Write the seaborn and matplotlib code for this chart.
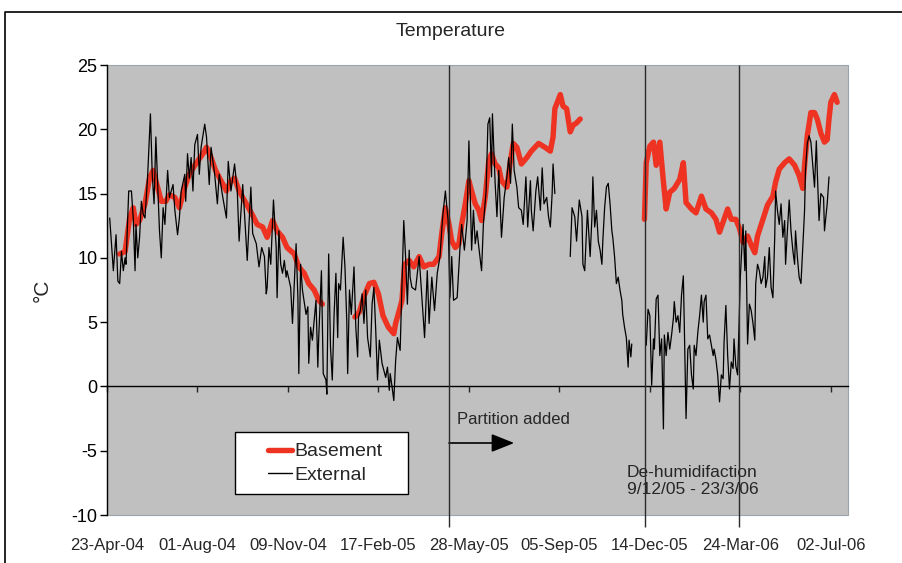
import numpy as np
import pandas as pd
import matplotlib
matplotlib.use("Agg")
import matplotlib.pyplot as plt
from matplotlib.lines import Line2D
from matplotlib.legend_handler import HandlerLine2D
import seaborn as sns

# ---- data -------------------------------------------------------------
start_date = "2004-04-23"          # day 0 of the day offsets below
nan = np.nan

# External air temperature (days since start, deg C); NaN marks a logging gap
ext_day = [3, 7, 10, 12, 14, 16, 18, 20, 21, 24, 27, 29, 31, 32, 34, 36, 38, 40, 42, 45,
           48, 50, 52, 54, 56, 58, 60, 62, 64, 67, 69, 73, 75, 78, 80, 82, 86, 87, 89, 91,
           93, 95, 97, 100, 102, 104, 108, 110, 113, 115, 119, 122, 124, 128, 132, 134, 137, 141, 144, 146,
           150, 152, 155, 159, 161, 165, 168, 171, 174, 176, 177, 179, 181, 184, 187, 188, 190, 192, 194, 196,
           198, 199, 203, 205, 209, 211, 212, 214, 216, 220, 222, 223, 225, 227, 231, 233, 234, 237, 239, 242,
           243, 245, 247, 249, 251, 253, 255, 256, 258, 261, 263, 265, 266, 268, 270, 273, 275, 277, 278, 280,
           282, 284, 286, 288, 291, 293, 295, 297, 299, 301, 304, 308, 310, 312, 313, 315, 317, 319, 321, 324,
           328, 330, 332, 334, 335, 337, 341, 345, 348, 351, 354, 356, 359, 362, 365, 368, 371, 374, 377, 379,
           381, 383, 387, 390, 392, 395, 398, 400, 403, 405, 407, 409, 411, 414, 416, 419, 421, 423, 425, 426,
           429, 431, 433, 436, 439, 442, 444, 446, 448, 450, 453, 455, 458, 460, 463, 465, 468, 469, 471, 474,
           476, 479, 481, 483, 486, 488, 490, 492, 493, 495, 503,
           512, 514, 517, 519, 522, 525, 526, 528, 531, 534, 536, 537, 539, 541, 543, 545, 547, 548, 550, 552,
           554, 556, 558, 559, 561, 563, 565, 567, 569, 570, 572, 574, 576, 577, 579, 580, 588,
           596, 598, 600, 602, 604, 605, 607, 609, 611, 613, 615, 616, 618, 620, 622, 624, 626, 627, 629, 631,
           633, 635, 637, 638, 640, 642, 644, 646, 648, 649, 651, 653, 655, 657, 659, 660, 662, 664, 666, 668,
           670, 671, 673, 675, 677, 679, 681, 682, 684, 686, 688, 690, 692, 693, 695, 697, 700, 703, 705, 706,
           708, 710, 712, 714, 716, 717, 719, 721, 723, 725, 727, 728, 730, 732, 734, 736, 738, 739, 741, 743,
           745, 747, 749, 750, 752, 754, 756, 758, 760, 761, 763, 765, 767, 769, 771, 772, 774, 776, 778, 782,
           784, 785, 787, 789, 792, 793, 796, 798]
ext_temp = [13.1, 9.0, 11.8, 8.2, 8.0, 10.5, 9.0, 10.0, 9.5, 15.2, 15.2, 13.1, 9.0, 12.6, 10.0, 11.6, 14.4, 13.4, 13.1, 16.5,
            21.2, 16.5, 14.2, 19.4, 15.7, 12.1, 10.0, 13.9, 12.6, 16.8, 14.7, 15.7, 13.7, 11.8, 13.1, 15.2, 16.5, 14.4, 18.1, 16.2,
            17.8, 15.2, 18.8, 19.6, 16.5, 18.6, 20.4, 19.4, 15.7, 18.6, 16.5, 14.2, 16.5, 14.7, 13.1, 17.5, 15.2, 17.3, 15.2, 11.3,
            15.7, 13.4, 9.8, 15.5, 11.9, 11.1, 9.3, 10.8, 10.1, 7.2, 7.7, 10.8, 9.5, 14.5, 10.8, 6.9, 12.1, 9.5, 8.8, 9.8,
            8.5, 9.0, 7.7, 4.9, 11.1, 6.9, 1.0, 9.5, 7.5, 5.6, 6.2, 1.8, 4.6, 3.6, 6.7, 1.5, 3.8, 9.0, 1.0, 0.5,
            -0.6, 10.3, 3.1, 0.5, 5.6, 8.8, 3.8, 8.0, 7.5, 11.6, 9.3, 5.1, 1.0, 7.5, 5.6, 9.3, 4.6, 2.3, 5.4, 5.9,
            7.2, 4.9, 7.5, 3.8, 2.3, 6.4, 7.7, 4.4, 0.5, 3.6, 1.8, 0.7, 1.5, -0.3, 1.0, 0.0, -1.1, 2.0, 3.8, 2.8,
            12.9, 10.1, 6.4, 10.6, 8.5, 7.7, 7.5, 10.1, 6.9, 3.8, 9.0, 4.9, 8.5, 5.9, 8.8, 10.1, 13.2, 15.2, 12.9, 6.9,
            10.1, 6.7, 6.9, 10.6, 12.6, 10.6, 12.9, 19.1, 10.6, 13.7, 11.1, 12.1, 10.8, 9.0, 12.6, 15.2, 20.4, 20.9, 16.3, 21.2,
            15.8, 13.2, 16.8, 11.6, 14.7, 16.3, 17.8, 15.8, 20.4, 16.8, 15.5, 13.9, 13.7, 12.6, 16.3, 12.4, 16.0, 13.7, 12.1, 15.2,
            16.3, 13.7, 17.0, 14.2, 14.7, 13.2, 12.4, 15.0, 17.3, 15.0, nan,
            10.1, 13.9, 13.2, 11.3, 14.5, 13.2, 9.5, 9.0, 13.7, 10.1, 13.2, 16.3, 12.4, 13.7, 11.3, 10.6, 9.5, 11.3, 13.9, 15.5,
            15.8, 14.2, 12.1, 11.6, 10.1, 8.0, 8.5, 7.5, 6.7, 5.6, 4.6, 3.8, 1.5, 3.6, 2.3, 3.3, nan,
            3.2, 6.0, 5.5, 0.1, 3.7, 2.9, 6.8, 7.1, 2.4, 3.7, -3.3, 4.0, 2.4, 4.2, 2.9, 4.0, 5.3, 6.6, 5.0, 5.5,
            4.2, 7.1, 8.6, 5.0, -2.5, 2.9, 3.2, 0.9, -0.2, 3.2, 2.4, 4.2, 5.5, 7.1, 5.0, 6.6, 7.1, 3.7, 4.0, 3.2,
            2.4, 2.9, 2.1, 0.9, -1.2, 0.9, 0.6, 3.4, 6.3, 2.4, -0.2, 1.9, 1.4, 3.7, 1.6, 0.9, 8.5, 12.6, 9.0, 12.1,
            3.3, 6.4, 5.9, 4.9, 3.6, 8.0, 9.5, 9.0, 8.0, 8.5, 10.1, 7.7, 8.5, 10.8, 7.7, 6.9, 11.6, 15.2, 13.7, 12.6,
            14.2, 11.6, 12.9, 9.5, 12.1, 14.5, 12.1, 10.6, 9.5, 12.1, 10.1, 8.5, 8.0, 10.8, 13.7, 16.8, 18.9, 19.5, 19.0, 15.5,
            19.1, 16.8, 12.9, 15.0, 14.7, 12.1, 14.2, 16.3]

# Basement air temperature (days since start, deg C)
bas_day = [14, 20, 25, 29, 32, 36, 42, 47, 51, 54, 60, 65, 69, 75, 80, 86, 91, 98, 106, 110,
           115, 120, 126, 132, 137, 141, 146, 154, 161, 166, 172, 177, 183, 188, 194, 199, 207, 212, 218, 223,
           229, 234, 238, 256,
           274, 279, 284, 290, 295, 300, 305, 311, 317, 319, 323, 326, 329, 334, 339, 345, 350, 356, 361, 367,
           370, 374, 378, 381, 385, 389, 392, 396, 400, 403, 407, 411, 414, 418, 422, 425, 429, 433, 436, 442,
           446, 449, 453, 458, 464, 469, 477, 484, 490, 493, 495, 501, 504, 508, 512, 515, 519, 523, 560,
           594, 596, 600, 604, 607, 611, 615, 618, 622, 627, 633, 637, 640, 646, 651, 657, 662, 668, 673, 677,
           681, 686, 690, 695, 699, 703, 708, 712, 716, 719, 725, 730, 736, 739, 743, 749, 754, 760, 765, 769,
           771, 774, 778, 782, 785, 789, 793, 796, 798, 800, 802, 804, 807]
bas_temp = [10.3, 10.5, 13.1, 13.9, 12.6, 12.9, 14.2, 16.2, 16.8, 16.0, 14.4, 14.4, 14.9, 14.7, 13.9, 15.5, 16.5, 17.3, 18.1, 18.6,
            17.8, 16.8, 16.0, 15.2, 16.0, 16.2, 15.2, 14.2, 13.3, 12.6, 12.4, 11.6, 12.9, 12.1, 11.6, 10.8, 10.3, 9.3, 8.8, 8.0,
            7.5, 6.7, 6.4, nan,
            5.4, 5.8, 7.0, 8.0, 8.1, 7.2, 5.5, 4.6, 4.1, 4.9, 5.9, 6.7, 9.5, 9.8, 9.3, 10.1, 9.3, 9.5, 9.5, 10.1,
            11.9, 13.9, 12.6, 11.3, 10.8, 11.1, 12.6, 14.2, 16.0, 15.2, 14.2, 13.7, 12.9, 14.7, 17.6, 18.1, 17.3, 17.0, 16.0, 15.5,
            17.6, 18.9, 18.6, 17.3, 17.8, 18.3, 18.9, 18.6, 18.3, 19.4, 21.6, 22.7, 21.8, 21.6, 19.8, 20.3, 20.5, 20.8, nan,
            13.0, 17.4, 18.7, 19.0, 17.2, 19.0, 15.9, 13.8, 15.1, 15.4, 16.1, 17.4, 14.3, 13.8, 13.5, 14.8, 13.8, 13.5, 13.0, 12.0,
            12.8, 13.8, 13.0, 13.0, 12.3, 11.2, 11.7, 11.0, 10.4, 11.7, 13.0, 14.1, 14.8, 15.9, 16.9, 17.4, 17.7, 17.2, 16.4, 15.4,
            17.2, 19.5, 21.3, 21.3, 20.8, 19.7, 19.0, 19.2, 20.8, 22.1, 22.4, 22.7, 22.1]

tick_labels = ["23-Apr-04", "01-Aug-04", "09-Nov-04", "17-Feb-05", "28-May-05",
               "05-Sep-05", "14-Dec-05", "24-Mar-06", "02-Jul-06"]
partition_date = "2005-05-06"
dehumid_dates = ["2005-12-09", "2006-03-23"]
y_ticks = [-10, -5, 0, 5, 10, 15, 20, 25]


def to_frame(days, temps):
    df = pd.DataFrame({"day": days, "temp": temps})
    df["date"] = pd.Timestamp(start_date) + pd.to_timedelta(df["day"], unit="D")
    df["segment"] = df["temp"].isna().cumsum()      # break the line at gaps
    return df.dropna()


ext = to_frame(ext_day, ext_temp)
bas = to_frame(bas_day, bas_temp)

# ---- style ------------------------------------------------------------
sns.set_style("white", {"axes.facecolor": "#C0C0C0"})
plt.rcParams["font.family"] = ["Liberation Sans", "DejaVu Sans"]

RED = "#EE3322"
fig = plt.figure(figsize=(9.02, 5.63), dpi=100)
fig.patch.set_facecolor("white")
ax = fig.add_axes([107 / 902, 1 - 515 / 563, (848 - 107) / 902, (515 - 65) / 563])

sns.lineplot(data=bas, x="date", y="temp", units="segment", estimator=None,
             color=RED, lw=3.9, ax=ax, legend=False, zorder=3)
sns.lineplot(data=ext, x="date", y="temp", units="segment", estimator=None,
             color="black", lw=0.9, ax=ax, legend=False, zorder=4)

x0 = pd.Timestamp(start_date) + pd.Timedelta(days=3)
x1 = pd.Timestamp("2006-07-21")
ax.set_xlim(x0, x1)
ax.set_ylim(-10, 25)
ax.set_xlabel("")
ax.set_ylabel("°C", fontsize=15, labelpad=14)

# y axis
ax.set_yticks(y_ticks)
ax.set_yticklabels([str(v) for v in y_ticks], fontsize=13)
ax.tick_params(axis="y", direction="out", length=5, width=1, pad=2, left=True, colors="black")
ax.spines["left"].set_color("black")
ax.spines["left"].set_linewidth(1.0)

# x axis sits on the 0 degC line; labels go below the plot area
tick_dates = pd.to_datetime(tick_labels, format="%d-%b-%y")
ax.spines["bottom"].set_position(("data", 0))
ax.spines["bottom"].set_color("black")
ax.spines["bottom"].set_linewidth(1.0)
ax.set_xticks(tick_dates)
ax.tick_params(axis="x", direction="out", length=4, width=1, bottom=True, labelbottom=False)
for d, lab in zip(tick_dates, tick_labels):
    ax.text(d, -0.067, lab, transform=ax.get_xaxis_transform(), ha="center", va="center",
            fontsize=12, clip_on=False)

for s in ("top", "right"):
    ax.spines[s].set_visible(False)
ax.patch.set_edgecolor("#9AA4AA")
ax.patch.set_linewidth(0.8)

# event markers
event_dates = pd.to_datetime([partition_date] + dehumid_dates)
ax.vlines(event_dates, -10.9, 25, colors="#2A2A2A", lw=1.0, clip_on=False, zorder=5)

pdate = pd.Timestamp(partition_date)
ax.text(pdate + pd.Timedelta(days=9), -2.6, "Partition added", fontsize=12, va="center", ha="left")
ax.annotate("", xy=(pdate + pd.Timedelta(days=72), -4.4), xytext=(pdate, -4.4),
            arrowprops=dict(arrowstyle="-|>,head_length=0.5,head_width=0.2", color="black",
                            lw=1.2, mutation_scale=28, shrinkA=0, shrinkB=0))
d0, d1 = pd.to_datetime(dehumid_dates)
mid = d0 + (d1 - d0) / 2
ax.text(mid, -7.35, "De-humidifaction\n9/12/05 - 23/3/06", fontsize=12.5, ha="center", va="center",
        linespacing=1.2)

# legend
handles = [Line2D([], [], color=RED, lw=3.9), Line2D([], [], color="black", lw=1.0)]
leg = ax.legend(handles, ["Basement", "External"], loc="upper left", mode="expand",
                bbox_to_anchor=((235 - 107) / 741, (515 - 432) / 450 - 0.01, 173 / 741, 0.01),
                fontsize=14, frameon=True, fancybox=False, framealpha=1, edgecolor="black",
                handlelength=2.4, handletextpad=0.1, borderpad=0.55, labelspacing=0.3,
                borderaxespad=0,
                handler_map={Line2D: HandlerLine2D(xpad=1.15)})
leg.get_frame().set_linewidth(1.0)
leg.get_frame().set_facecolor("white")

# title and chart border
fig.text(0.5, 1 - 32 / 563, "Temperature", ha="center", va="center", fontsize=14)
fig.add_artist(Line2D([5 / 902, 5 / 902, 1.0], [0.0, 1 - 12 / 563, 1 - 12 / 563],
                      transform=fig.transFigure, color="black", lw=1.2))

fig.savefig("out.png", dpi=100)
